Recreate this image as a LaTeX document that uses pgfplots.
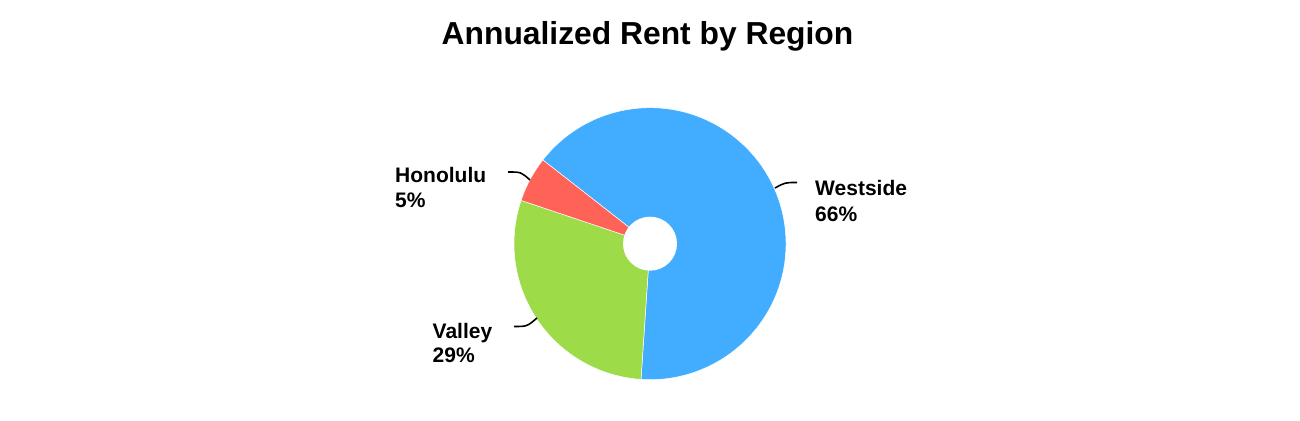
\documentclass[border=0pt]{standalone}
\usepackage{pgfplots}
\pgfplotsset{compat=1.18}
\usepackage{pgfplotstable}
\usepackage{fontspec}
\setmainfont{Liberation Sans}

\definecolor{westblue}{HTML}{42ADFF}
\definecolor{valleygreen}{HTML}{9DDB48}
\definecolor{honored}{HTML}{FF6358}

% share of annualized rent, clockwise from the start angle
\pgfplotstableread{
region   value color
Westside 65.5  westblue
Valley   29.1  valleygreen
Honolulu 5.4   honored
}\piedata

\begin{document}
\begin{tikzpicture}
\path[use as bounding box] (0,0) rectangle (1300pt,420pt);
\begin{axis}[
	at={(0,0)}, anchor=south west,
	scale only axis,
	width=1300pt, height=420pt,
	xmin=0, xmax=1300, ymin=0, ymax=420,
	hide axis, clip=false,
]
\pgfplotstablegetrowsof{\piedata}
\pgfmathtruncatemacro\nrows{\pgfplotsretval-1}
\def\cumangle{142}
\pgfplotsforeachungrouped \i in {0,...,\nrows}{
	\pgfplotstablegetelem{\i}{value}\of\piedata \let\val\pgfplotsretval
	\pgfplotstablegetelem{\i}{color}\of\piedata \let\col\pgfplotsretval
	\pgfmathsetmacro\endangle{\cumangle-3.6*\val}
	\edef\temp{\noexpand\fill[\col, draw=white, line width=0.5pt]
		(axis cs:650,176.3) -- ++(\cumangle:136pt)
		arc[start angle=\cumangle, end angle=\endangle, radius=136pt] -- cycle;}
	\temp
	\global\let\cumangle\endangle
}
\fill[white] (axis cs:650,176.3) circle[radius=27pt];

% leader lines
\draw[line width=1.6pt] (axis cs:508,248) .. controls (axis cs:521,248) .. (axis cs:530,240);
\draw[line width=1.6pt] (axis cs:797,237.5) .. controls (axis cs:785,237.5) .. (axis cs:775,232);
\draw[line width=1.6pt] (axis cs:514,93.5) .. controls (axis cs:527,93.5) .. (axis cs:537,102);

% labels
\begin{scope}[every node/.style={anchor=base west, inner sep=0pt, font=\fontsize{21}{25}\selectfont\bfseries}]
\node at (axis cs:395,237) {Honolulu};
\node at (axis cs:395,212) {5\%};
\node at (axis cs:815,224) {Westside};
\node at (axis cs:815,198.5) {66\%};
\node at (axis cs:432.5,81.7) {Valley};
\node at (axis cs:432.5,57) {29\%};
\end{scope}

\node[anchor=base, inner sep=0pt, font=\fontsize{31.8}{36}\selectfont\bfseries]
	at (axis cs:647.5,375.7) {Annualized Rent by Region};
\end{axis}
\end{tikzpicture}
\end{document}
